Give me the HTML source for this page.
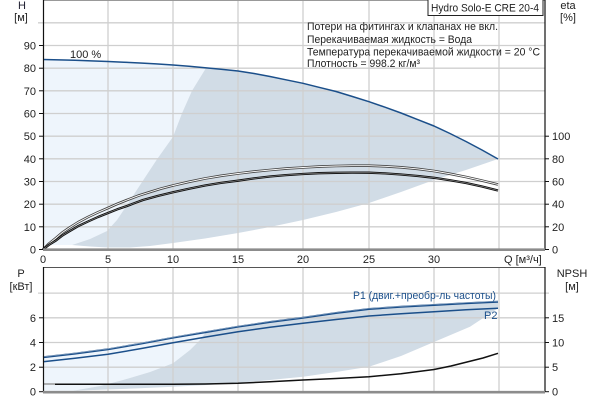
<!DOCTYPE html>
<html><head><meta charset="utf-8"><style>
html,body{margin:0;padding:0;background:#fff;}
svg{display:block;font-family:"Liberation Sans",Arial,sans-serif;}
</style></head><body>
<svg width="600" height="400" viewBox="0 0 600 400" xmlns="http://www.w3.org/2000/svg">
<rect width="600" height="400" fill="#fff"/>
<!-- TOP CHART regions -->
<polygon fill="#eef5fc" points="43,59.5 75,60.3 108,61.5 140,63 173,65 209,67.5 206,68 192,90.7 182,113.3 173,136.7 157,159.3 142,182 127,205 117,220 107,231 90,239 72,245 43,245"/>
<polygon fill="#d1dce6" points="209,67.5 238,71 270,76.5 303,83.3 336,91.5 369,101.7 401,113 434,126 466,141.5 498,159 466,170 434,180 401,192 369,203 336,212 303,220 270,227 238,233 205,238.5 173,243 150,246 130,247.5 108,247.5 90,246.5 72,245 90,239 107,231 117,220 127,205 142,182 157,159.3 173,136.7 182,113.3 192,90.7 206,68"/>
<!-- top grid -->
<g stroke="#cfcfcf" stroke-width="1.3">
<line x1="43" y1="226.8" x2="545" y2="226.8"/><line x1="43" y1="204.2" x2="545" y2="204.2"/>
<line x1="43" y1="181.5" x2="545" y2="181.5"/><line x1="43" y1="158.8" x2="545" y2="158.8"/>
<line x1="43" y1="136.2" x2="545" y2="136.2"/><line x1="43" y1="113.5" x2="545" y2="113.5"/>
<line x1="43" y1="90.8" x2="545" y2="90.8"/><line x1="43" y1="68.2" x2="545" y2="68.2"/>
<line x1="43" y1="45.5" x2="545" y2="45.5"/><line x1="38" y1="22.8" x2="545" y2="22.8"/>
<line x1="108" y1="0" x2="108" y2="250"/><line x1="173" y1="0" x2="173" y2="250"/>
<line x1="238" y1="0" x2="238" y2="250"/><line x1="303" y1="0" x2="303" y2="250"/>
<line x1="369" y1="0" x2="369" y2="250"/><line x1="434" y1="0" x2="434" y2="250"/>
<line x1="499" y1="0" x2="499" y2="250"/>
</g>
<line x1="43" y1="0.5" x2="545" y2="0.5" stroke="#999" stroke-width="1"/>
<!-- H curve -->
<polyline fill="none" stroke="#1b4f8a" stroke-width="1.5" stroke-linejoin="round" points="43,59.5 59,59.9 75,60.3 91,60.9 108,61.5 124,62.2 140,63 156,63.9 173,65 189,66.3 205,67.7 221,69.2 238,71 254,73.5 270,76.5 286,79.8 303,83.3 319,87.3 336,91.5 352,96.4 369,101.7 385,107.2 401,113 417,119.3 434,126 450,133.5 466,141.5 482,150 498,159"/>
<!-- efficiency curves -->
<g fill="none" stroke-linejoin="round">
<polyline stroke="#444" stroke-width="2.6" points="43,249.5 49,243.6 56,238 62,232.8 69,228 78,222.3 88,217 98,212.3 108,208 117,204 127,200 138,195.8 150,192 161,188.6 173,185.5 189,181.8 205,178.5 221,175.8 238,173.5 254,171.6 270,170 286,168.6 303,167.5 319,166.6 336,166 352,165.7 369,165.7 385,166.3 401,167.3 418,168.9 434,171 450,173.8 466,177 482,180.6 498,184.5"/>
<polyline stroke="#fff" stroke-width="0.9" points="43,249.5 49,243.6 56,238 62,232.8 69,228 78,222.3 88,217 98,212.3 108,208 117,204 127,200 138,195.8 150,192 161,188.6 173,185.5 189,181.8 205,178.5 221,175.8 238,173.5 254,171.6 270,170 286,168.6 303,167.5 319,166.6 336,166 352,165.7 369,165.7 385,166.3 401,167.3 418,168.9 434,171 450,173.8 466,177 482,180.6 498,184.5"/>
<polyline stroke="#111" stroke-width="2.3" points="43,249.5 49,244.8 56,240.5 62,235.8 69,231.5 78,226.2 88,221.5 98,217 108,213 117,209.4 127,206 135,202.9 143,200 158,195.9 173,192.3 189,188.7 205,185.5 221,182.9 238,180.7 254,178.4 270,176.5 286,175.1 303,174 319,173.2 336,172.8 352,172.6 369,172.7 385,173.4 401,174.5 418,176 434,177.8 450,180.2 466,183 482,186.5 498,190.5"/>
<polyline stroke="#aaa" stroke-width="0.5" points="43,249.5 49,244.8 56,240.5 62,235.8 69,231.5 78,226.2 88,221.5 98,217 108,213 117,209.4 127,206 135,202.9 143,200 158,195.9 173,192.3 189,188.7 205,185.5 221,182.9 238,180.7 254,178.4 270,176.5 286,175.1 303,174 319,173.2 336,172.8 352,172.6 369,172.7 385,173.4 401,174.5 418,176 434,177.8 450,180.2 466,183 482,186.5 498,190.5"/>
</g>
<!-- top axes -->
<line x1="43.5" y1="0" x2="43.5" y2="250" stroke="#111" stroke-width="1.2"/>
<line x1="545" y1="0" x2="545" y2="250" stroke="#111" stroke-width="1.2"/>
<line x1="43" y1="249.7" x2="545" y2="249.7" stroke="#8c8c8c" stroke-width="2.6"/>
<g stroke="#111" stroke-width="1">
<line x1="39" y1="249.5" x2="43" y2="249.5"/><line x1="39" y1="226.8" x2="43" y2="226.8"/>
<line x1="39" y1="204.2" x2="43" y2="204.2"/><line x1="39" y1="181.5" x2="43" y2="181.5"/>
<line x1="39" y1="158.8" x2="43" y2="158.8"/><line x1="39" y1="136.2" x2="43" y2="136.2"/>
<line x1="39" y1="113.5" x2="43" y2="113.5"/><line x1="39" y1="90.8" x2="43" y2="90.8"/>
<line x1="39" y1="68.2" x2="43" y2="68.2"/><line x1="39" y1="45.5" x2="43" y2="45.5"/>
<line x1="545" y1="249.5" x2="549" y2="249.5"/><line x1="545" y1="226.8" x2="549" y2="226.8"/>
<line x1="545" y1="204.2" x2="549" y2="204.2"/><line x1="545" y1="181.5" x2="549" y2="181.5"/>
<line x1="545" y1="158.8" x2="549" y2="158.8"/><line x1="545" y1="136.2" x2="549" y2="136.2"/>
</g>
<g font-size="11" fill="#222" text-anchor="end">
<text x="36" y="253.5">0</text><text x="36" y="230.8">10</text><text x="36" y="208.2">20</text>
<text x="36" y="185.5">30</text><text x="36" y="162.8">40</text><text x="36" y="140.2">50</text>
<text x="36" y="117.5">60</text><text x="36" y="94.8">70</text><text x="36" y="72.2">80</text>
<text x="36" y="49.5">90</text>
</g>
<g font-size="11" fill="#222">
<text x="552" y="253.5">0</text><text x="552" y="230.8">20</text><text x="552" y="208.2">40</text>
<text x="552" y="185.5">60</text><text x="552" y="162.8">80</text><text x="552" y="140.2">100</text>
</g>
<g font-size="11" fill="#222" text-anchor="middle">
<text x="43" y="263">0</text><text x="108" y="263">5</text><text x="173" y="263">10</text>
<text x="238" y="263">15</text><text x="303" y="263">20</text><text x="369" y="263">25</text>
<text x="434" y="263">30</text>
</g>
<text x="504" y="263" font-size="11" fill="#222">Q [м³/ч]</text>
<text x="22" y="9" font-size="11" fill="#223" text-anchor="middle">H</text>
<text x="21" y="21" font-size="11" fill="#222" text-anchor="middle">[м]</text>
<text x="568" y="9" font-size="11" fill="#222" text-anchor="middle">eta</text>
<text x="568" y="21" font-size="11" fill="#222" text-anchor="middle">[%]</text>
<text x="70" y="58" font-size="11" fill="#222">100 %</text>
<rect x="428" y="-1" width="115" height="16.5" fill="#fff" stroke="#222" stroke-width="1"/>
<text x="431" y="11.5" font-size="11" fill="#222" textLength="108" lengthAdjust="spacingAndGlyphs">Hydro Solo-E CRE 20-4</text>
<g font-size="11" fill="#222">
<text x="307" y="30" textLength="191" lengthAdjust="spacingAndGlyphs">Потери на фитингах и клапанах не вкл.</text>
<text x="307" y="43" textLength="165" lengthAdjust="spacingAndGlyphs">Перекачиваемая жидкость = Вода</text>
<text x="307" y="55.5" textLength="233" lengthAdjust="spacingAndGlyphs">Температура перекачиваемой жидкости = 20 °C</text>
<text x="307" y="67" textLength="113" lengthAdjust="spacingAndGlyphs">Плотность = 998.2 кг/м³</text>
</g>

<!-- BOTTOM CHART regions -->
<polygon fill="#eef5fc" points="43,357.3 108,349.3 173,337.7 206,332.1 200,340 190,350 173,363.3 150,372 123,380 100,386 73,390.7 43,390.5"/>
<polygon fill="#d1dce6" points="206,332.1 238,326.7 270,322 303,317.8 336,313 369,309 401,306.8 434,305 466,303.2 498,301.7 498,308.3 470,326.7 434,342 401,356 369,366.7 336,372 303,376.7 270,380 240,382.7 207,385 173,386.7 140,388.3 73,390.7 100,386 123,380 150,372 173,363.3 190,350 200,340"/>
<g stroke="#cfcfcf" stroke-width="1.3">
<line x1="43" y1="367.2" x2="545" y2="367.2"/><line x1="43" y1="342.5" x2="545" y2="342.5"/>
<line x1="43" y1="317.8" x2="545" y2="317.8"/><line x1="38" y1="293.1" x2="549" y2="293.1"/>
<line x1="108" y1="267" x2="108" y2="392"/><line x1="173" y1="267" x2="173" y2="392"/>
<line x1="238" y1="267" x2="238" y2="392"/><line x1="303" y1="267" x2="303" y2="392"/>
<line x1="369" y1="267" x2="369" y2="392"/><line x1="434" y1="267" x2="434" y2="392"/>
<line x1="499" y1="267" x2="499" y2="392"/>
</g>
<line x1="43" y1="267.5" x2="545" y2="267.5" stroke="#555" stroke-width="1"/>
<!-- P1, P2 -->
<g fill="none" stroke-linejoin="round">
<polyline stroke="#1b4f8a" stroke-width="2" points="43,357.3 75,353.6 108,349.3 140,343.8 173,337.7 206,332.1 238,326.7 270,322 303,317.8 336,313 369,309 401,306.8 434,305 466,303.2 498,301.7"/>
<polyline stroke="#8fa8c4" stroke-width="0.6" points="43,356.8 75,353.1 108,348.8 140,343.3 173,337.2 206,331.6 238,326.2 270,321.5 303,317.3 336,312.5 369,308.5 401,306.3 434,304.5 466,302.7 498,301.2"/>
<polyline stroke="#1b4f8a" stroke-width="1.5" points="43,361.7 75,358.3 108,354.3 140,348.8 173,342.7 206,337 238,331.7 270,327.3 303,323.3 336,319.5 369,316 401,313.7 434,311.7 466,309.8 498,308.3"/>
<!-- NPSH -->
<line x1="43" y1="384" x2="55" y2="384" stroke="#999" stroke-width="1.5"/>
<polyline stroke="#111" stroke-width="1.5" points="55,384.2 120,384.3 173,384.3 205,384 238,383.3 270,381.8 303,380 336,378.5 369,376.7 401,373.8 434,369.5 451,366 467,362 483,358 498,353.3"/>
</g>
<line x1="43.5" y1="267" x2="43.5" y2="392" stroke="#111" stroke-width="1.2"/>
<line x1="545" y1="267" x2="545" y2="392" stroke="#111" stroke-width="1.2"/>
<line x1="43" y1="392.2" x2="545" y2="392.2" stroke="#8c8c8c" stroke-width="2.6"/>
<g stroke="#111" stroke-width="1">
<line x1="39" y1="391.7" x2="43" y2="391.7"/><line x1="39" y1="367.2" x2="43" y2="367.2"/>
<line x1="39" y1="342.5" x2="43" y2="342.5"/><line x1="39" y1="317.8" x2="43" y2="317.8"/>
<line x1="545" y1="391.7" x2="549" y2="391.7"/><line x1="545" y1="367.2" x2="549" y2="367.2"/>
<line x1="545" y1="342.5" x2="549" y2="342.5"/><line x1="545" y1="317.8" x2="549" y2="317.8"/>
</g>
<g font-size="11" fill="#222" text-anchor="end">
<text x="36" y="395.5">0</text><text x="36" y="371.2">2</text><text x="36" y="346.5">4</text><text x="36" y="321.8">6</text>
</g>
<g font-size="11" fill="#222">
<text x="552" y="395.5">0</text><text x="552" y="371.2">5</text><text x="552" y="346.5">10</text><text x="552" y="321.8">15</text>
</g>
<text x="21" y="277" font-size="11" fill="#222" text-anchor="middle">P</text>
<text x="21" y="290" font-size="11" fill="#222" text-anchor="middle">[кВт]</text>
<text x="572" y="277" font-size="11" fill="#222" text-anchor="middle">NPSH</text>
<text x="572" y="290" font-size="11" fill="#222" text-anchor="middle">[м]</text>
<text x="353" y="299" font-size="11" fill="#1b4f8a" textLength="143" lengthAdjust="spacingAndGlyphs">P1 (двиг.+преобр-ль частоты)</text>
<text x="484" y="319" font-size="11" fill="#1b4f8a">P2</text>
</svg>
</body></html>
